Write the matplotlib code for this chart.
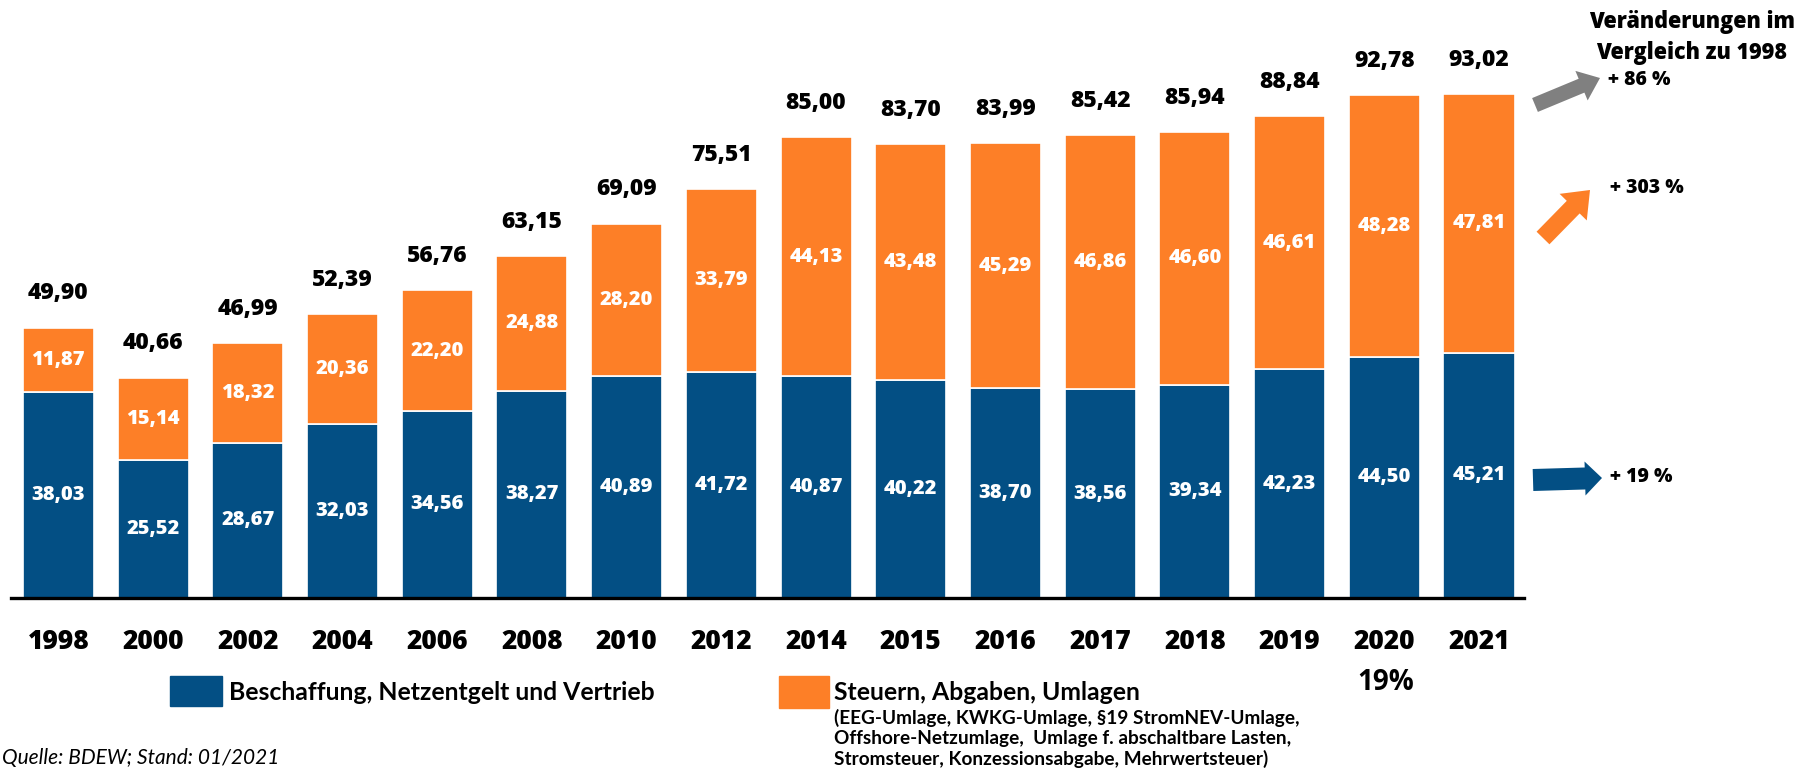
import matplotlib
matplotlib.use('Agg')
import matplotlib.pyplot as plt
from matplotlib.patches import Rectangle, FancyArrow
import numpy as np

years = ['1998', '2000', '2002', '2004', '2006', '2008', '2010', '2012',
         '2014', '2015', '2016', '2017', '2018', '2019', '2020', '2021']
beschaffung = [38.03, 25.52, 28.67, 32.03, 34.56, 38.27, 40.89, 41.72,
               40.87, 40.22, 38.70, 38.56, 39.34, 42.23, 44.50, 45.21]
steuern = [11.87, 15.14, 18.32, 20.36, 22.20, 24.88, 28.20, 33.79,
           44.13, 43.48, 45.29, 46.86, 46.60, 46.61, 48.28, 47.81]
totals = [49.90, 40.66, 46.99, 52.39, 56.76, 63.15, 69.09, 75.51,
          85.00, 83.70, 83.99, 85.42, 85.94, 88.84, 92.78, 93.02]

legend_blue = 'Beschaffung, Netzentgelt und Vertrieb'
legend_orange = 'Steuern, Abgaben, Umlagen'
legend_orange_sub = ['(EEG-Umlage, KWKG-Umlage, §19 StromNEV-Umlage,',
                     'Offshore-Netzumlage,  Umlage f. abschaltbare Lasten,',
                     'Stromsteuer, Konzessionsabgabe, Mehrwertsteuer)']
source = 'Quelle: BDEW; Stand: 01/2021'
vat_note = '19%'

BLUE = '#034F84'
ORANGE = '#FD7F27'
GREY = '#808080'

NUM = ['Open Sans', 'DejaVu Sans']
TXT = ['Lato', 'DejaVu Sans']
plt.rcParams['font.family'] = TXT
HEAVY = 'heavy'

W, H = 1797, 768
fig = plt.figure(figsize=(W / 100, H / 100), dpi=100)


def fmt(v):
    return f'{v:.2f}'.replace('.', ',')


base_y = 598
ax = fig.add_axes([11 / W, (H - base_y) / H, (1524 - 11) / W, 542 / H])
x = np.arange(len(years))
ax.set_xlim(-0.5, len(years) - 1 + 0.475)
ax.set_ylim(0, 100)

ax.bar(x, beschaffung, width=0.75, color=BLUE, edgecolor='white', linewidth=1.2, zorder=2)
ax.bar(x, steuern, bottom=beschaffung, width=0.75, color=ORANGE,
       edgecolor='white', linewidth=1.2, zorder=2)

for i in range(len(years)):
    b, s, t = beschaffung[i], steuern[i], totals[i]
    ax.text(i, b / 2, fmt(b), ha='center', va='center', color='white',
            fontsize=14.5, fontweight=HEAVY, family=NUM, zorder=3)
    ax.text(i, b + s / 2, fmt(s), ha='center', va='center', color='white',
            fontsize=14.5, fontweight=HEAVY, family=NUM, zorder=3)
    ax.annotate(fmt(t), (i, b + s), xytext=(0, 16), textcoords='offset points',
                ha='center', va='bottom', fontsize=16.5, fontweight=HEAVY,
                family=NUM, color='black')

ax.set_xticks(x, years)
for lab in ax.get_xticklabels():
    lab.set_fontsize(19)
    lab.set_fontweight(HEAVY)
    lab.set_family(NUM)
ax.tick_params(axis='x', length=0, pad=22)
ax.set_yticks([])
for sp in ['top', 'right', 'left']:
    ax.spines[sp].set_visible(False)
ax.spines['bottom'].set_linewidth(2.4)
ax.spines['bottom'].set_color('black')

# overlay in pixel coordinates for legend and annotations
ov = fig.add_axes([0, 0, 1, 1], zorder=5)
ov.set_xlim(0, W)
ov.set_ylim(H, 0)
ov.axis('off')
ov.patch.set_alpha(0)

# legend
ov.add_patch(Rectangle((170, 676), 52, 30, color=BLUE))
ov.text(229, 692, legend_blue, fontsize=17.8, fontweight='bold', va='center', ha='left')
ov.add_patch(Rectangle((779, 676), 50, 32, color=ORANGE))
ov.text(834, 693, legend_orange, fontsize=17.8, fontweight='bold', va='center', ha='left')
for k, line in enumerate(legend_orange_sub):
    ov.text(834, 718 + k * 20.5, line, fontsize=13.7, fontweight='bold', va='center', ha='left')

ov.text(1386, 682, vat_note, fontsize=20, fontweight='bold', family=NUM,
        va='center', ha='center')
ov.text(2, 748, source, fontsize=15, style='italic', va='top', ha='left')

# change annotations
ov.text(1692, 22, 'Veränderungen im', fontsize=15.5, fontweight=HEAVY, family=NUM,
        ha='center', va='center')
ov.text(1692, 53, 'Vergleich zu 1998', fontsize=15.5, fontweight=HEAVY, family=NUM,
        ha='center', va='center')

pct_total = round((totals[-1] / totals[0] - 1) * 100)
pct_st = round((steuern[-1] / steuern[0] - 1) * 100)
pct_b = round((beschaffung[-1] / beschaffung[0] - 1) * 100)

ov.add_patch(FancyArrow(1535, 105, 65, -27, width=15, head_width=32, head_length=20,
                        length_includes_head=True, color=GREY, lw=0))
ov.add_patch(FancyArrow(1543, 238, 47, -48, width=18, head_width=38, head_length=24,
                        length_includes_head=True, color=ORANGE, lw=0))
ov.add_patch(FancyArrow(1533, 480, 69, -2, width=22, head_width=34, head_length=17,
                        length_includes_head=True, color=BLUE, lw=0))

ov.text(1608, 80, f'+ {pct_total} %', fontsize=14, fontweight=HEAVY, family=NUM,
        ha='left', va='center')
ov.text(1610, 188, f'+ {pct_st} %', fontsize=14, fontweight=HEAVY, family=NUM,
        ha='left', va='center')
ov.text(1610, 477, f'+ {pct_b} %', fontsize=14, fontweight=HEAVY, family=NUM,
        ha='left', va='center')

fig.savefig('out.png', dpi=100)
